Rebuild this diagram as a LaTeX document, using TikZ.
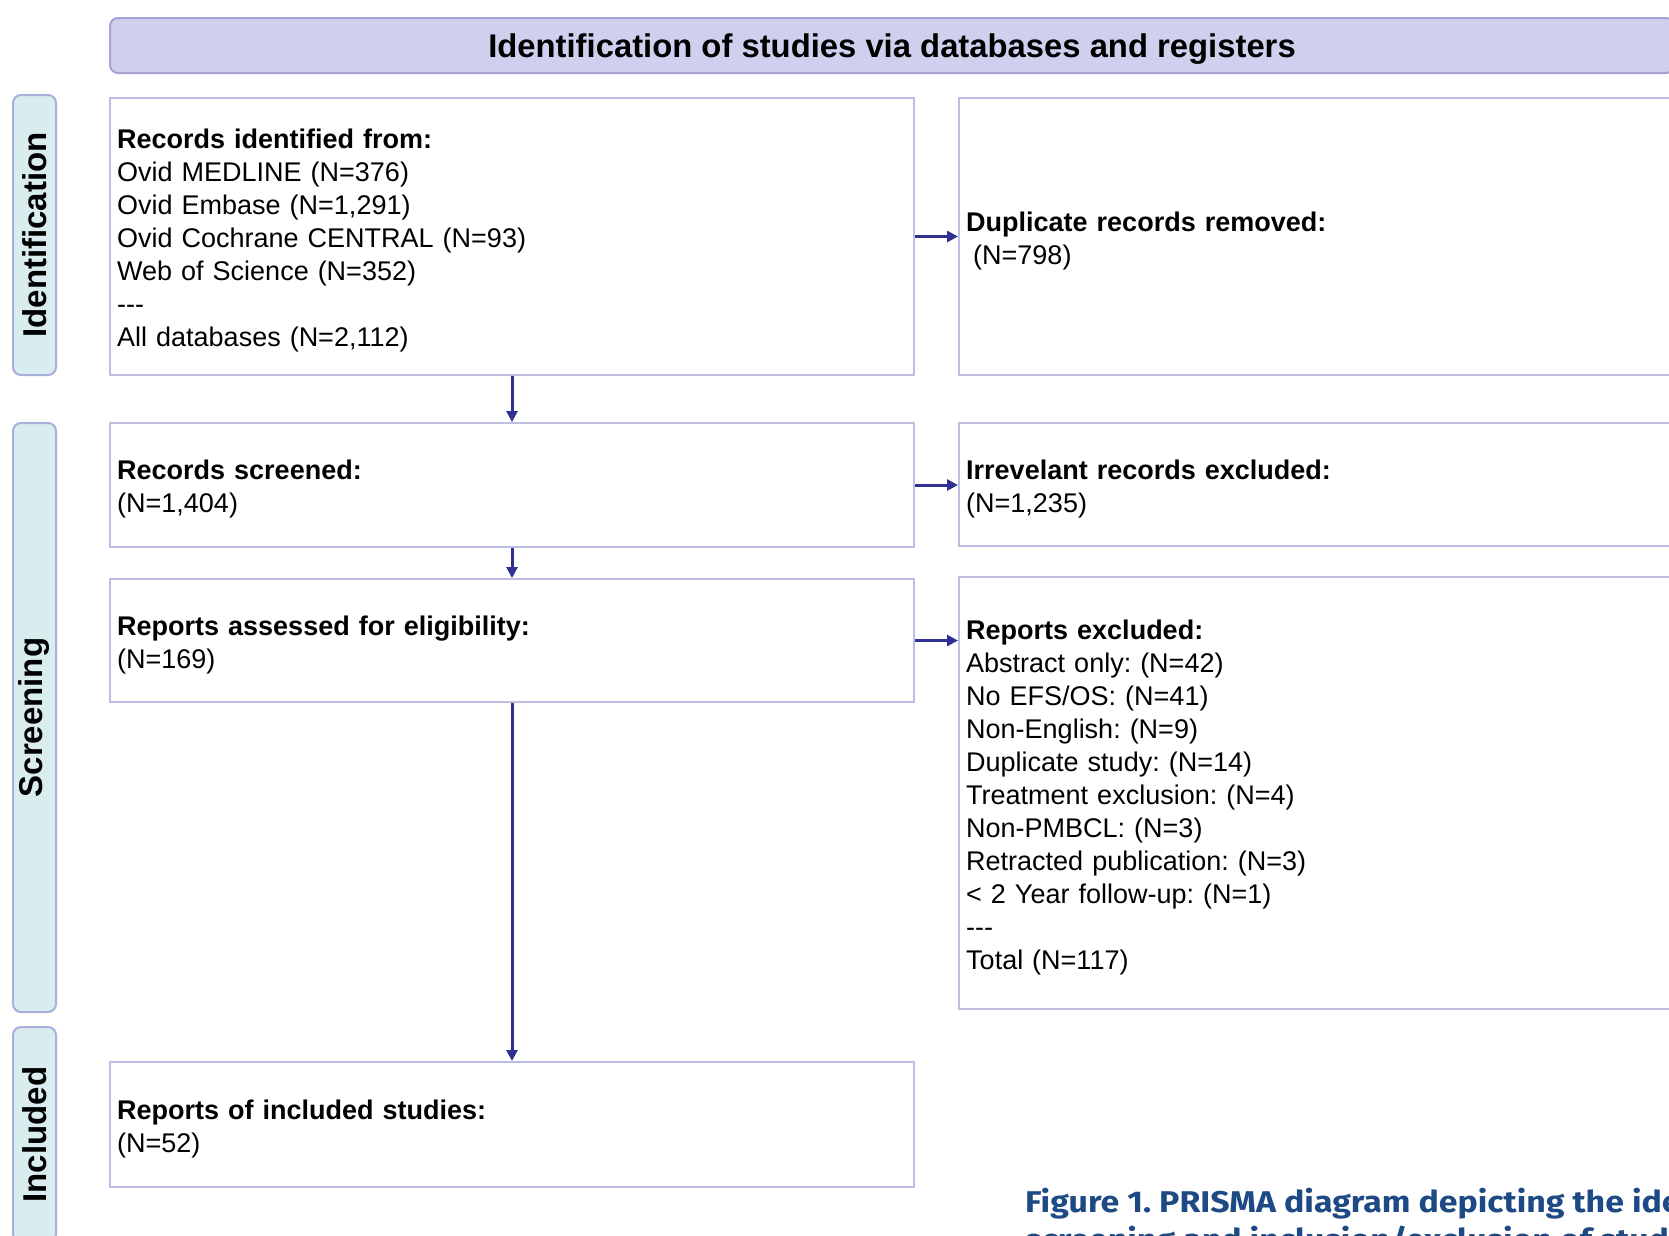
\documentclass[tikz,border=0pt]{standalone}
\usepackage{fontspec}
\setmainfont{Liberation Sans}
\newfontfamily\capfont[FakeStretch=1.13]{Fira Sans}
\usetikzlibrary{arrows.meta}
\definecolor{bannerfill}{HTML}{CFD0EE}
\definecolor{bannerdraw}{HTML}{A3A4D4}
\definecolor{sidefill}{HTML}{DAEDEE}
\definecolor{sidedraw}{HTML}{A9AEDC}
\definecolor{boxdraw}{HTML}{BDBEE4}
\definecolor{arrowcol}{HTML}{2E3192}
\definecolor{capcol}{HTML}{1D4A84}
\frenchspacing
\begin{document}
\begin{tikzpicture}[x=1pt,y=-1pt,
  banner/.style={draw=bannerdraw,fill=bannerfill,line width=2pt,rounded corners=8pt,
    minimum width=1564pt,minimum height=55pt,inner sep=0pt},
  bannertext/.style={inner sep=0pt,font=\bfseries\fontsize{32.8}{38}\selectfont},
  sidelabel/.style={draw=sidedraw,fill=sidefill,line width=2pt,rounded corners=8pt,
    rotate=90,minimum height=43pt,inner sep=0pt,
    font=\bfseries\fontsize{33}{38}\selectfont},
  flowbox/.style={draw=boxdraw,fill=white,line width=2pt,minimum width=804pt,inner sep=0pt},
  flowtext/.style={anchor=west,text width=788pt,inner sep=8pt,
    align=left,font=\frenchspacing\fontsize{27}{33}\selectfont},
  arr/.style={draw=arrowcol,line width=3pt,-{Triangle[length=11pt,width=11pt]}},
  capstyle/.style={anchor=base west,inner sep=0pt,text=capcol,
    font=\capfont\bfseries\fontsize{30}{36}\selectfont}
]
\useasboundingbox (0,0) rectangle (1669,1235);
\fill[white] (0,0) rectangle (1669,1235);
\clip (0,0) rectangle (1669,1235);

\node[banner] (head) at (892,45.5) {};
\node[bannertext] (headt) at ([yshift=-4pt]head.center) {Identification of studies via databases and registers};

\node[sidelabel,minimum width=280pt] (sid) at (34.5,235) {Identification};
\node[sidelabel,minimum width=589pt] (sscr) at (34.5,717.5) {Screening};
\node[sidelabel,minimum width=215pt] (sinc) at (34.5,1134.5) {Included};

\node[flowbox,minimum height=277pt] (rec) at (512,236.5) {};
\node[flowtext] (rect) at ([yshift=-4.5pt]rec.west) {\textbf{Records identified from:}\\
Ovid MEDLINE (N=376)\\
Ovid Embase (N=1,291)\\
Ovid Cochrane CENTRAL (N=93)\\
Web of Science (N=352)\\
-{}-{}-\\
All databases (N=2,112)};

\node[flowbox,minimum height=277pt] (dup) at (1361,236.5) {};
\node[flowtext] (dupt) at ([yshift=-4.5pt]dup.west) {\textbf{Duplicate records removed:}\\
\hspace*{7pt}(N=798)};

\node[flowbox,minimum height=124pt] (scr) at (512,485) {};
\node[flowtext] (scrt) at ([yshift=-4.5pt]scr.west) {\textbf{Records screened:}\\(N=1,404)};

\node[flowbox,minimum height=123pt] (irr) at (1361,484.5) {};
\node[flowtext] (irrt) at ([yshift=-4.5pt]irr.west) {\textbf{Irrevelant records excluded:}\\(N=1,235)};

\node[flowbox,minimum height=123pt] (ass) at (512,640.5) {};
\node[flowtext] (asst) at ([yshift=-4.5pt]ass.west) {\textbf{Reports assessed for eligibility:}\\(N=169)};

\node[flowbox,minimum height=432pt] (exc) at (1361,793) {};
\node[flowtext] (exct) at ([yshift=-4.5pt]exc.west) {\textbf{Reports excluded:}\\
Abstract only: (N=42)\\
No EFS/OS: (N=41)\\
Non-English: (N=9)\\
Duplicate study: (N=14)\\
Treatment exclusion: (N=4)\\
Non-PMBCL: (N=3)\\
Retracted publication: (N=3)\\
< 2 Year follow-up: (N=1)\\
-{}-{}-\\
Total (N=117)};

\node[flowbox,minimum height=125pt] (inc) at (512,1124.5) {};
\node[flowtext] (inct) at ([yshift=-4.5pt]inc.west) {\textbf{Reports of included studies:}\\(N=52)};

\draw[arr] (rec.south) -- (scr.north);
\draw[arr] (scr.south) -- (ass.north);
\draw[arr] (ass.south) -- (inc.north);
\draw[arr] (rec.east) -- (dup.west);
\draw[arr] (scr.east) -- (scr.east -| irr.west);
\draw[arr] (ass.east) -- (ass.east -| exc.west);

\node[capstyle] (cap1) at (1025,1212) {Figure 1. PRISMA diagram depicting the identification,};
\node[capstyle] (cap2) at (1025,1250) {screening and inclusion/exclusion of studies};
\end{tikzpicture}
\end{document}
